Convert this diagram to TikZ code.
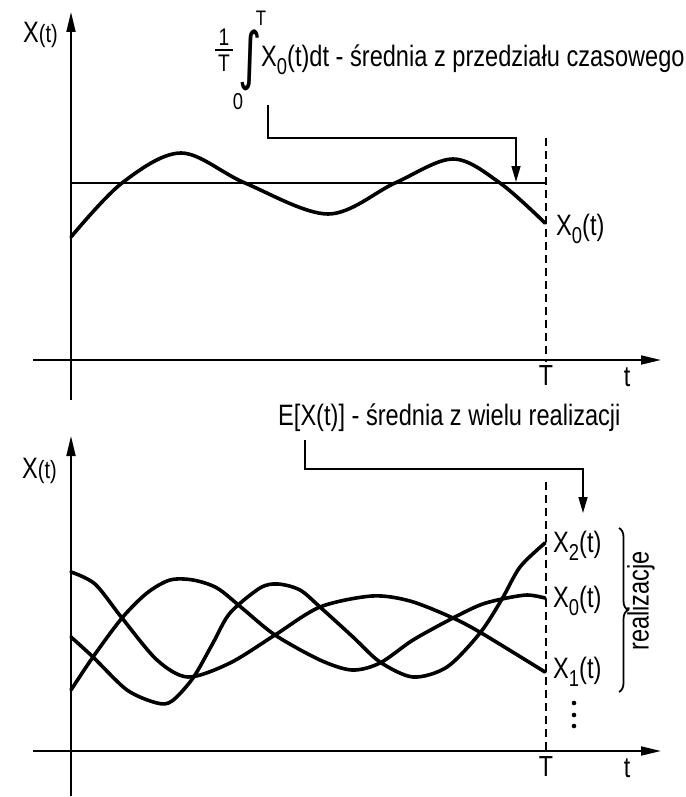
\documentclass[tikz,border=0pt]{standalone}
\usepackage{fontspec}
\setmainfont{Liberation Sans}[FakeStretch=0.8]
\newfontfamily\dejavu{DejaVu Sans}
\usetikzlibrary{arrows.meta,decorations.pathreplacing}
\newcommand\subsc[1]{\raisebox{-8pt}{\fontsize{23}{23}\selectfont #1}}
\begin{document}
\begin{tikzpicture}[x=1pt,y=-1pt,
  axis/.style={line width=1.8pt,-{Triangle[length=20pt,width=9pt]}},
  curve/.style={line width=3.6pt,line join=round,line cap=round},
  conn/.style={line width=1.5pt,-{Triangle[length=16pt,width=9pt]}},
  tdash/.style={line width=1.9pt,dash pattern=on 8pt off 5pt},
  meanline/.style={line width=1.2pt},
  lbl/.style={inner sep=0pt,anchor=base west,font=\fontsize{29.5}{32}\selectfont},
  lblc/.style={inner sep=0pt,anchor=base,font=\fontsize{29}{32}\selectfont}]
\useasboundingbox (0,0) rectangle (685,797);

% ---------------- top panel ----------------
\coordinate (ya0) at (71,400); \coordinate (ya1) at (71,12);
\coordinate (xa0) at (33,360); \coordinate (xa1) at (661,360);
\draw[axis] (ya0) -- (ya1);
\draw[axis] (xa0) -- (xa1);
\node[lbl] (ylab1) at (23,43) {X{\fontsize{25}{25}\selectfont(t)}};
\node[lblc] (T1) at (546,385) {T};
\node[lblc] (t1) at (627,386) {t};
\coordinate (d1a) at (546,138); \coordinate (d1b) at (546,362);
\draw[tdash] (d1a) -- (d1b);
\coordinate (m0) at (71,183); \coordinate (m1) at (546,183);
\draw[meanline] (m0) -- (m1);
\draw[curve] plot[smooth,tension=0.55] coordinates {(71,237) (122,183) (181,153) (245,183) (328,214) (395,183) (453,159) (500,183) (545,223)};
\node[lbl] (x0top) at (556,235) {X\subsc{0}(t)};

% formula label
\node[inner sep=0pt,anchor=south,font=\fontsize{24}{24}\selectfont] (one) at (224,46) {1};
\coordinate (fb0) at (215,50); \coordinate (fb1) at (233,50);
\draw[line width=1.4pt] (fb0) -- (fb1);
\node[inner sep=0pt,anchor=north,font=\fontsize{24}{24}\selectfont] (Tden) at (224,55) {T};
\node[inner sep=0pt,font=\dejavu\fontsize{30}{30}\selectfont] (intg) at (250,60) {\scalebox{1.5}[2.1]{∫}};
\node[inner sep=0pt,anchor=base,font=\fontsize{21}{21}\selectfont] (Tup) at (261,26) {T};
\node[inner sep=0pt,anchor=base,font=\fontsize{23}{23}\selectfont] (zlow) at (238,110) {0};
\node[lbl] (lab1) at (261,67) {X\subsc{0}(t)dt - średnia z przedziału czasowego};
\coordinate (c1s) at (268,105); \coordinate (c1k) at (516,138); \coordinate (c1e) at (516,182);
\draw[conn] (c1s) |- (c1k) -- (c1e);

% ---------------- bottom panel ----------------
\coordinate (yb0) at (71,796); \coordinate (yb1) at (71,436);
\coordinate (xb0) at (33,751); \coordinate (xb1) at (661,751);
\draw[axis] (yb0) -- (yb1);
\draw[axis] (xb0) -- (xb1);
\node[lbl] (ylab2) at (22,478) {X{\fontsize{25}{25}\selectfont(t)}};
\node[lblc] (T2) at (546,776) {T};
\node[lblc] (t2) at (627,777) {t};
\coordinate (d2a) at (546,482); \coordinate (d2b) at (546,752);
\draw[tdash] (d2a) -- (d2b);

% curve -> X1
\draw[curve] plot[smooth,tension=0.5] coordinates {(71,572) (95,584) (122,618) (157,660) (188,677) (230,663) (275,635) (320,607) (372,596) (410,601) (453,618) (483,634) (545,672)};
% curve -> X2
\draw[curve] plot[smooth,tension=0.5] coordinates {(71,637) (93,657) (127,690) (157,703) (172,701) (193,678) (213,643) (230,613) (260,588) (278,584) (300,590) (320,607) (353,637) (380,662) (413,677) (447,667) (480,633) (502,599) (520,567) (545,543)};
% curve -> X0
\draw[curve] plot[smooth,tension=0.5] coordinates {(71,690) (93,657) (122,618) (147,593) (170,580) (193,580) (217,588) (242,608) (275,635) (320,660) (352,670) (380,663) (413,640) (453,618) (480,605) (502,599) (527,595) (545,598)};

\node[lbl] (x2) at (553,552) {X\subsc{2}(t)};
\node[lbl] (x0) at (553,607) {X\subsc{0}(t)};
\node[lbl] (x1) at (553,678) {X\subsc{1}(t)};
\fill (574,703) circle (2.3pt);
\fill (574,715) circle (2.3pt);
\fill (574,726) circle (2.3pt);
\coordinate (br0) at (619,528); \coordinate (br1) at (619,692);
\draw[line width=1.8pt,decorate,decoration={brace,amplitude=9pt}] (br0) -- (br1);
\node[inner sep=0pt,rotate=90,font=\fontsize{29.5}{32}\selectfont] (real) at (641,601) {realizacje};

\node[lbl] (lab2) at (278,425) {E[X(t)] - średnia z wielu realizacji};
\coordinate (c2s) at (305,440); \coordinate (c2k) at (583,469); \coordinate (c2e) at (583,513);
\draw[conn] (c2s) |- (c2k) -- (c2e);
\end{tikzpicture}
\end{document}
